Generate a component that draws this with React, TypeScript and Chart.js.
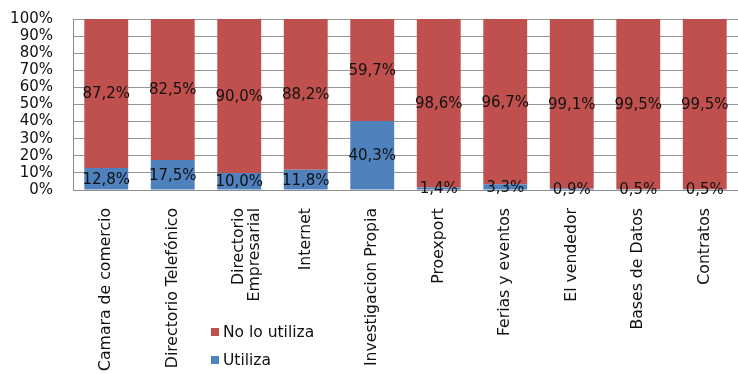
import React, { useEffect, useRef } from "react";
import { Chart, registerables } from "chart.js";

Chart.register(...registerables);

const categories: (string | string[])[] = [
  "Camara de comercio",
  "Directorio Telefónico",
  ["Directorio", "Empresarial"],
  "Internet",
  "Investigacion Propia",
  "Proexport",
  "Ferias y eventos",
  "El vendedor",
  "Bases de Datos",
  "Contratos",
];

const utiliza = [12.8, 17.5, 10.0, 11.8, 40.3, 1.4, 3.3, 0.9, 0.5, 0.5];
const noLoUtiliza = [87.2, 82.5, 90.0, 88.2, 59.7, 98.6, 96.7, 99.1, 99.5, 99.5];

const yTicks = [0, 10, 20, 30, 40, 50, 60, 70, 80, 90, 100];

const RED = "#C0504D";
const BLUE = "#4F81BD";
const FONT = "'DejaVu Sans', 'Liberation Sans', Arial, sans-serif";

const fmt = (v: number) => v.toFixed(1).replace(".", ",") + "%";

// Value labels centred in each stacked segment, plus the legend below the plot.
const overlayPlugin = {
  id: "overlay",
  afterDatasetsDraw(chart: any) {
    const ctx = chart.ctx;
    ctx.save();
    ctx.font = `15px ${FONT}`;
    ctx.fillStyle = "#111";
    ctx.textAlign = "center";
    ctx.textBaseline = "middle";
    chart.data.datasets.forEach((ds: any, di: number) => {
      const meta = chart.getDatasetMeta(di);
      meta.data.forEach((bar: any, i: number) => {
        const { x, y, base } = bar.getProps(["x", "y", "base"], true);
        const mid = (y + base) / 2;
        ctx.fillText(fmt(ds.data[i]), x, Math.min(mid + 1, base + 2));
      });
    });
    ctx.restore();
  },
  afterDraw(chart: any) {
    const ctx = chart.ctx;
    const items = [
      { ds: chart.data.datasets[1], cy: 332 },
      { ds: chart.data.datasets[0], cy: 360 },
    ];
    ctx.save();
    ctx.font = `15.5px ${FONT}`;
    ctx.textAlign = "left";
    ctx.textBaseline = "middle";
    items.forEach(({ ds, cy }) => {
      ctx.fillStyle = ds.backgroundColor;
      ctx.fillRect(211, cy - 4, 8, 8);
      ctx.fillStyle = "#111";
      ctx.fillText(ds.label, 223, cy + 1);
    });
    ctx.restore();
  },
};

export default function App() {
  const canvasRef = useRef<HTMLCanvasElement | null>(null);

  useEffect(() => {
    if (!canvasRef.current) return;
    const chart = new Chart(canvasRef.current, {
      type: "bar",
      data: {
        labels: categories,
        datasets: [
          {
            label: "Utiliza",
            data: utiliza,
            backgroundColor: BLUE,
            barPercentage: 0.66,
            categoryPercentage: 1,
          },
          {
            label: "No lo utiliza",
            data: noLoUtiliza,
            backgroundColor: RED,
            barPercentage: 0.66,
            categoryPercentage: 1,
          },
        ],
      },
      options: {
        animation: false,
        responsive: false,
        maintainAspectRatio: false,
        layout: { padding: { top: 19, left: 0, right: 0, bottom: 0 } },
        plugins: {
          legend: { display: false },
          tooltip: { enabled: false },
        },
        scales: {
          x: {
            stacked: true,
            grid: { drawOnChartArea: false, drawTicks: false },
            border: { display: true, color: "#8c8c8c", width: 1 },
            ticks: {
              autoSkip: false,
              minRotation: 90,
              maxRotation: 90,
              padding: 18,
              color: "#111",
              font: { family: FONT, size: 15.7, lineHeight: 1.0 },
            },
            afterFit: (s: any) => {
              s.height = 184;
              s.paddingLeft = 0;
              s.paddingRight = 0;
            },
          },
          y: {
            stacked: true,
            min: 0,
            max: 100,
            afterBuildTicks: (s: any) => {
              s.ticks = yTicks.map((v) => ({ value: v }));
            },
            grid: { color: "#969696", lineWidth: 1, drawTicks: false },
            border: { display: true, color: "#8c8c8c", width: 1 },
            ticks: {
              autoSkip: false,
              stepSize: 10,
              padding: 20,
              color: "#111",
              font: { family: FONT, size: 15 },
              callback: (v: any) => `${v}%`,
            },
            afterFit: (s: any) => {
              s.width = 73;
              s.paddingTop = 0;
              s.paddingBottom = 0;
            },
          },
        },
      },
      plugins: [overlayPlugin],
    });
    return () => chart.destroy();
  }, []);

  return (
    <div style={{ position: "fixed", left: 0, top: 0, width: 738, height: 374, background: "#fff" }}>
      <canvas ref={canvasRef} width={738} height={374} />
    </div>
  );
}
